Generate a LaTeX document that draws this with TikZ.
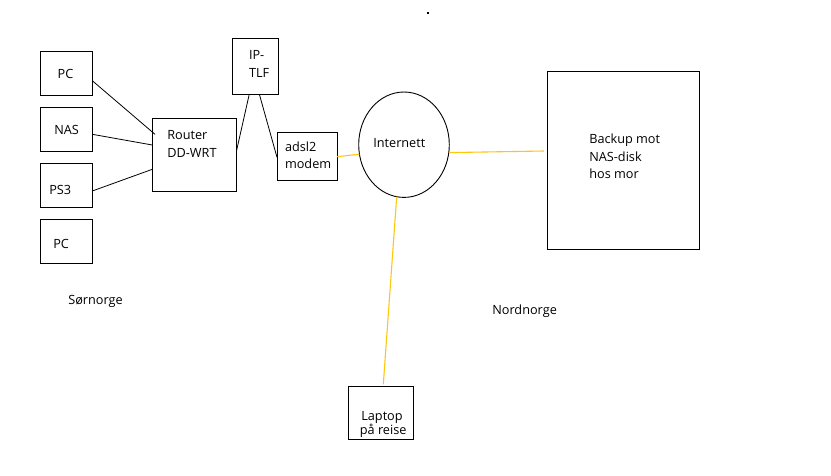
\documentclass[tikz,border=0pt]{standalone}
\usepackage{fontspec}
\setmainfont{Open Sans}
\usetikzlibrary{shapes.geometric}
\definecolor{paintgold}{RGB}{255,198,14}
\tikzset{
  box/.style={draw=black, line width=1pt, rectangle, inner sep=0pt, outer sep=0pt},
  cloud/.style={draw=black, line width=0.9pt, ellipse, inner sep=0pt, outer sep=0pt},
  txt/.style={anchor=base west, inner sep=0pt, outer sep=0pt, font=\fontsize{12.7pt}{17.8pt}\selectfont},
  wire/.style={draw=black, line width=0.8pt},
  ywire/.style={draw=paintgold, line width=1.1pt}
}
\begin{document}
\begin{tikzpicture}[x=1pt,y=-1pt]
\useasboundingbox (0,0) rectangle (831,475);
% boxes
\node[box, minimum width=52pt, minimum height=43.7pt] (pc1) at (66.3,73.2) {};
\node[box, minimum width=52pt, minimum height=43.7pt] (nas) at (66.3,129.2) {};
\node[box, minimum width=52pt, minimum height=43.7pt] (ps3) at (66.3,185.2) {};
\node[box, minimum width=52pt, minimum height=43.7pt] (pc2) at (66.3,241.2) {};
\node[box, minimum width=84.4pt, minimum height=73pt] (router) at (194.5,154.8) {};
\node[box, minimum width=46pt, minimum height=55.7pt] (iptlf) at (255.3,66.2) {};
\node[box, minimum width=60pt, minimum height=48pt] (adsl) at (307,156.3) {};
\node[cloud, minimum width=90.6pt, minimum height=105.4pt] (inet) at (404,144.7) {};
\node[box, minimum width=152.4pt, minimum height=178pt] (backup) at (623.5,160.3) {};
\node[box, minimum width=65pt, minimum height=53pt] (laptop) at (380.8,412.8) {};
% texts
\node[txt] (tpc1) at (57.7,78) {PC};
\node[txt] (tnas) at (54.3,134) {NAS};
\node[txt] (tps3) at (49.3,194.7) {PS3};
\node[txt] (tpc2) at (53.3,248) {PC};
\node[txt] (trouter1) at (167.3,139.7) {Router};
\node[txt] (trouter2) at (167.3,157.4) {DD-WRT};
\node[txt] (tip1) at (249,59.7) {IP-};
\node[txt] (tip2) at (249,77.4) {TLF};
\node[txt] (tadsl1) at (285,151.2) {adsl2};
\node[txt] (tadsl2) at (285,168.9) {modem};
\node[txt] (tinet) at (373.3,147.4) {Internett};
\node[txt] (tbackup1) at (589.3,143.3) {Backup mot};
\node[txt] (tbackup2) at (589.3,161.1) {NAS-disk};
\node[txt] (tbackup3) at (589.3,178.9) {hos mor};
\node[txt, anchor=base] (tlaptop1) at (382,420) {Laptop};
\node[txt, anchor=base] (tlaptop2) at (383.2,434.3) {på reise};
\node[txt] (tsor) at (68.3,304.5) {Sørnorge};
\node[txt] (tnord) at (492.3,314.3) {Nordnorge};
% stray dot
\fill[black] (427.3,12) rectangle (429.3,14);
% black connectors
\draw[wire] ([yshift=-7.5pt]pc1.east) -- ([xshift=2.7pt,yshift=20.5pt]router.west);
\draw[wire] ([yshift=-5.1pt]nas.east) -- ([yshift=9.8pt]router.west);
\draw[wire] ([yshift=-5.8pt]ps3.east) -- ([yshift=-14.5pt]router.west);
\draw[wire] ([yshift=4.8pt]router.east) -- ([xshift=-6pt]iptlf.south);
\draw[wire] ([xshift=4pt]iptlf.south) -- ([yshift=-1pt]adsl.west);
% yellow connectors
\draw[ywire] ([yshift=-0.4pt]adsl.east) -- (inet.192);
\draw[ywire] (inet.-10) -- ([xshift=-3.3pt,yshift=9.3pt]backup.west);
\draw[ywire] (inet.262) -- ([xshift=2.5pt,yshift=2pt]laptop.north);
\end{tikzpicture}
\end{document}
